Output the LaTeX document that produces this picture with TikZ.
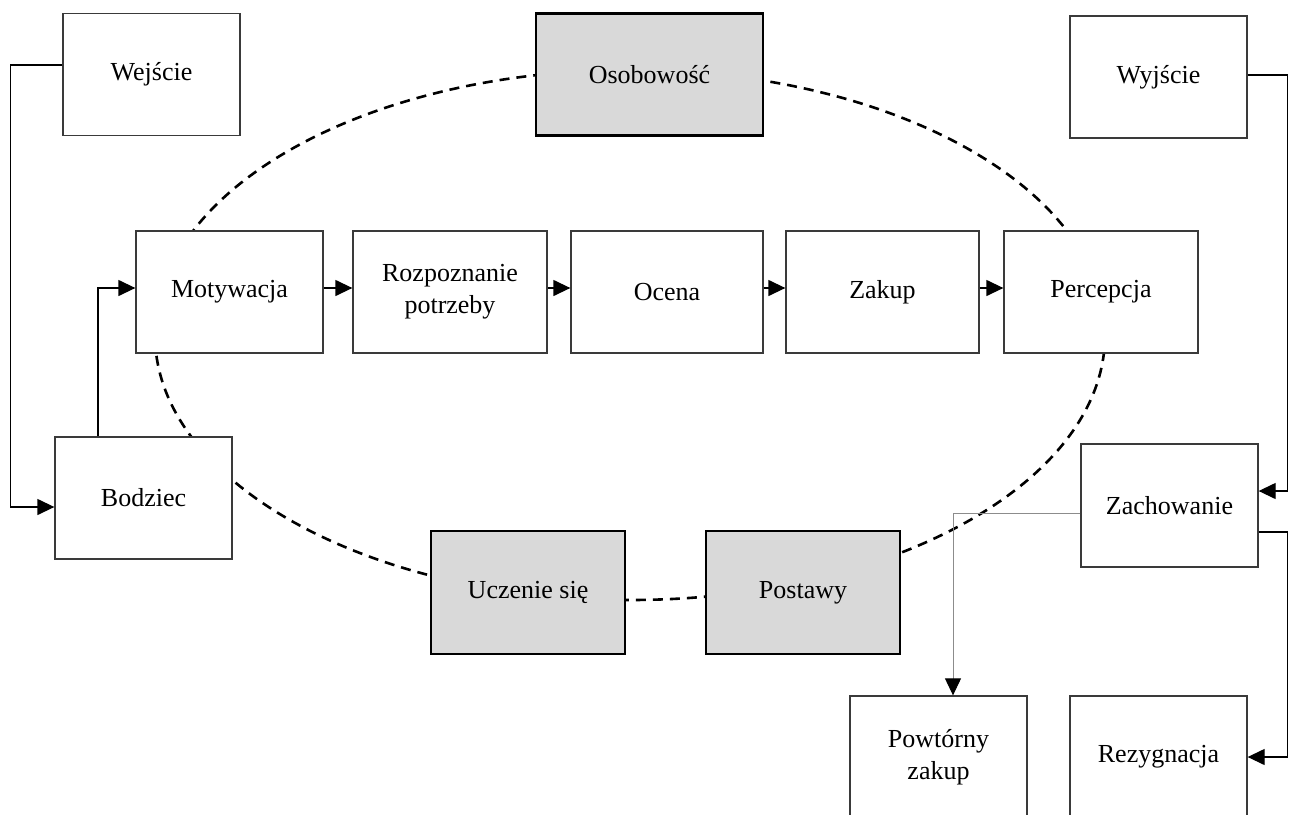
\documentclass[tikz,border=0pt]{standalone}
\usepackage{fontspec}
\setmainfont{Liberation Serif}
\usetikzlibrary{arrows.meta,calc}
\definecolor{boxline}{HTML}{3A3A3A}
\definecolor{keyfill}{HTML}{D9D9D9}
\definecolor{thinline}{HTML}{8C8C8C}
\begin{document}
\begin{tikzpicture}[x=1pt,y=-1pt,
  box/.style={draw=boxline, line width=1.3pt, fill=white, inner sep=0pt,
    align=center, font=\fontsize{26}{32}\selectfont,
    minimum height=122pt},
  keybox/.style={box, draw=black, line width=2.6pt, fill=keyfill},
  tip/.style={-{Triangle[length=17pt,width=16pt,color=black]}},
  conn/.style={line width=1.3pt, draw=black, tip},
  thinconn/.style={line width=1pt, draw=thinline, tip},
  ring/.style={line width=2.6pt, dash pattern=on 10pt off 7pt}]

\useasboundingbox (0,0) rectangle (1292,814);
\clip (0,0) rectangle (1292,814);

% dashed ring behind the boxes
\draw[ring] (630,335) ellipse [x radius=475pt, y radius=265pt];

% top row
\node[box, minimum width=177pt] (wej) at (151.5,74.5) {Wejście};
\node[keybox, minimum width=227pt] (oso) at (649.5,74.5) {Osobowość};
\node[box, minimum width=177pt] (wyj) at (1158.5,77) {Wyjście};

% decision chain
\node[box, minimum width=187pt] (mot) at (229.5,292) {Motywacja};
\node[box, minimum width=194pt] (roz) at (450,292) {Rozpoznanie\\potrzeby};
\node[box, minimum width=192pt] (oce) at (667,292) {Ocena};
\node[box, minimum width=193pt] (zak) at (882.5,292) {Zakup};
\node[box, minimum width=194pt] (per) at (1101,292) {Percepcja};

% lower boxes
\node[box, minimum width=177pt] (bod) at (143.5,498) {Bodziec};
\node[box, minimum width=177pt, minimum height=123pt] (zach) at (1169.5,505.5) {Zachowanie};
\node[keybox, minimum width=194pt, minimum height=123pt] (ucz) at (528,592.5) {Uczenie się};
\node[keybox, minimum width=194pt, minimum height=123pt] (pos) at (803,592.5) {Postawy};
\node[box, minimum width=177pt] (pow) at (938.5,757) {Powtórny\\zakup};
\node[box, minimum width=177pt] (rez) at (1158.5,757) {Rezygnacja};

% input side
\draw[conn] ([yshift=9.5pt]wej.west) -- ++(-52,0) |- ([yshift=-9pt]bod.west);
\draw[conn] ([xshift=-45.5pt]bod.north) |- ([yshift=4pt]mot.west);

% chain arrows
\draw[conn] ([yshift=4pt]mot.east) -- ([yshift=4pt]roz.west);
\draw[conn] ([yshift=4pt]roz.east) -- ([yshift=4pt]oce.west);
\draw[conn] ([yshift=4pt]oce.east) -- ([yshift=4pt]zak.west);
\draw[conn] ([yshift=4pt]zak.east) -- ([yshift=4pt]per.west);

% output side
\draw[conn] ([yshift=2pt]wyj.east) -- ++(40,0) |- ([yshift=14.5pt]zach.east);
\draw[thinconn] ([yshift=-7.5pt]zach.west) -| ([xshift=14.5pt]pow.north);
\draw[conn] ([yshift=-26.5pt]zach.east) -- ++(29,0) |- (rez.east);
\end{tikzpicture}
\end{document}
